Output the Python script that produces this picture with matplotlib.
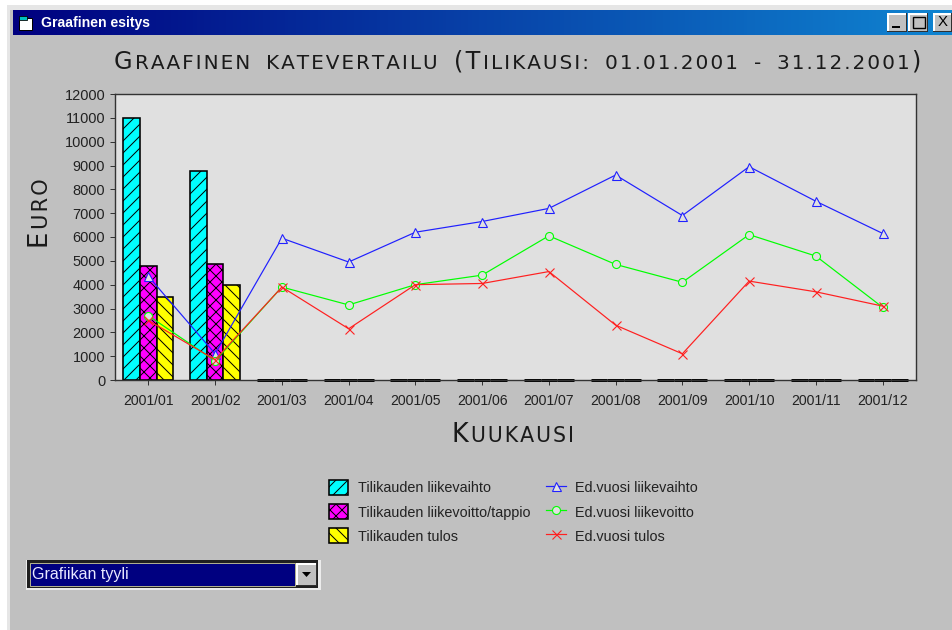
"""Windows-style chart dialog: monthly margin comparison, bars + prior-year lines."""
from itertools import groupby

import matplotlib
matplotlib.use("Agg")
import matplotlib.pyplot as plt
import numpy as np
from matplotlib.patches import Polygon, Rectangle

W, H = 952, 630
months = ["2001/01", "2001/02", "2001/03", "2001/04", "2001/05", "2001/06",
          "2001/07", "2001/08", "2001/09", "2001/10", "2001/11", "2001/12"]
liikevaihto = [11000, 8750, 0, 0, 0, 0, 0, 0, 0, 0, 0, 0]
liikevoitto = [4800, 4850, 0, 0, 0, 0, 0, 0, 0, 0, 0, 0]
tulos = [3500, 4000, 0, 0, 0, 0, 0, 0, 0, 0, 0, 0]
ed_liikevaihto = [4350, 1100, 5950, 4950, 6200, 6650, 7200, 8600, 6900, 8950, 7500, 6150]
ed_liikevoitto = [2700, 800, 3900, 3150, 4000, 4400, 6050, 4850, 4100, 6100, 5200, 3050]
ed_tulos = [2500, 850, 3900, 2150, 4000, 4050, 4550, 2300, 1100, 4150, 3700, 3100]
yticks = list(range(0, 13000, 1000))

plt.rcParams["font.family"] = ["Liberation Sans", "DejaVu Sans"]
plt.rcParams["hatch.linewidth"] = 1.0
TXT = "#222222"
HAIR = "\u200a"

# dpi 72: one point is one pixel, and "//" hatching comes out near the original spacing
fig = plt.figure(figsize=(W / 72, H / 72), dpi=72, facecolor="white")
bg = fig.add_axes([0, 0, 1, 1])
bg.set_xlim(0, W); bg.set_ylim(H, 0); bg.axis("off")


def box(x0, y0, x1, y1, fc, ec="none", lw=0, z=1):
    bg.add_patch(Rectangle((x0, y0), x1 - x0, y1 - y0, fc=fc, ec=ec, lw=lw, zorder=z))


def raised(x0, y0, x1, y1):
    box(x0, y0, x1, y1, "#303030", z=2)
    box(x0, y0, x1 - 1.5, y1 - 1.5, "white", z=2)
    box(x0 + 1.5, y0 + 1.5, x1 - 1.5, y1 - 1.5, "#c0c0c0", z=2)


# window frame and title bar
box(7, 5, W, H, "#e6e6e6")
box(10, 10, W, H, "#c0c0c0")
grad = np.linspace(0, 1, 256)[None, :, None]
grad = np.array([0, 0, 0.5]) * (1 - grad) + np.array([0.06, 0.52, 0.82]) * grad
bg.imshow(grad, extent=(12.5, W, 35, 10), aspect="auto", zorder=2)
bg.set_xlim(0, W); bg.set_ylim(H, 0)
box(19, 18, 32, 30, "white", ec="black", lw=1, z=3)
box(19, 16, 27, 20, "#00c0c0", ec="black", lw=0.8, z=3)
bg.text(41, 23, "Graafinen esitys", color="white", fontsize=14, fontweight="bold",
        va="center", ha="left", zorder=3)
raised(887, 13, 907, 32)
raised(908, 13, 928, 32)
raised(933, 13, 952, 32)
box(892, 26, 900, 28, "black", z=3)
box(913, 17, 925, 28, "none", ec="black", lw=1.4, z=3)
bg.text(943, 22.5, "X", color="black", fontsize=15, ha="center", va="center", zorder=3)

# combo box
box(26, 560, 321, 590, "#ececec")
box(27, 560, 318, 588, "#202020")
box(30, 563, 295, 586, "#000080", ec="#d8d8a0", lw=0.8, z=2)
raised(296, 563, 317, 586)
bg.add_patch(Polygon([[302, 572], [311, 572], [306.5, 577]], fc="black", zorder=3))
bg.text(32, 575, "Grafiikan tyyli", color="#e8e8ff", fontsize=16, va="center",
        ha="left", zorder=3)


def smallcaps(x, y, s, big, small, gap, rotation=0, family="DejaVu Sans"):
    """Lay out s as small caps from x,y (pixels), word by word, run by run."""
    r = fig.canvas.get_renderer()
    pos = 0.0
    for word in s.split(" "):
        for low, run in groupby(word, key=lambda c: not (c.isupper() or c in "()")):
            run = HAIR.join(run).upper() + HAIR
            size = small if low else big
            px, py = (x, y - pos) if rotation else (x + pos, y)
            t = bg.text(px, py, run, fontsize=size, color="#1a1a1a", family=family,
                        ha="left", va="baseline", rotation_mode="anchor", zorder=3)
            pos += t.get_window_extent(r).width
            t.set_rotation(rotation)
        pos += gap


smallcaps(114, 69, "Graafinen katevertailu (Tilikausi: 01.01.2001 - 31.12.2001)", 24, 20, 14)
smallcaps(48, 248, "Euro", 26, 21, 0, rotation=90)
smallcaps(452, 442, "Kuukausi", 25.5, 20.5, 0)

# chart
ax = fig.add_axes([115 / W, 1 - 380 / H, 801 / W, 286 / H], facecolor="#e0e0e0")
x = np.arange(len(months))
bw = 0.25
bar_kw = dict(width=bw, edgecolor="black", zorder=2, clip_on=False)


def edge(vals):
    # empty months show up as a heavy black stub on the axis
    return [1.6 if v else 3 for v in vals]


b1 = ax.bar(x - bw, liikevaihto, color="#00ffff", hatch="//", linewidth=edge(liikevaihto),
            label="Tilikauden liikevaihto", **bar_kw)
b2 = ax.bar(x, liikevoitto, color="#ff00ff", hatch="xx", linewidth=edge(liikevoitto),
            label="Tilikauden liikevoitto/tappio", **bar_kw)
b3 = ax.bar(x + bw, tulos, color="#ffff00", hatch="\\\\", linewidth=edge(tulos),
            label="Tilikauden tulos", **bar_kw)
l1, = ax.plot(x, ed_liikevaihto, color="#2020ff", lw=1.2, marker="^", ms=9, mfc="#e0e0e0",
              mec="#2020ff", mew=1.1, zorder=3, label="Ed.vuosi liikevaihto")
l2, = ax.plot(x, ed_liikevoitto, color="#00ff00", lw=1.2, marker="o", ms=8, mfc="#e0e0e0",
              mec="#00ff00", mew=1.1, zorder=4, label="Ed.vuosi liikevoitto")
l3, = ax.plot(x, ed_tulos, color="#ff2020", lw=1.2, marker="x", ms=9, mew=1.1, zorder=5,
              label="Ed.vuosi tulos")

ax.set_xlim(-0.5, len(months) - 0.5)
ax.set_ylim(0, 12000)
ax.set_xticks(x, months)
ax.set_yticks(yticks)
ax.tick_params(axis="both", labelsize=14, labelcolor=TXT, color="#333333", length=5, width=1)
ax.tick_params(axis="y", labelsize=14.5, pad=5)
ax.tick_params(axis="x", pad=9)
for sp in ax.spines.values():
    sp.set_linewidth(1.4)
    sp.set_color("#333333")

ax.legend(handles=[b1, b2, b3, l1, l2, l3], ncol=2, loc="upper left",
          bbox_to_anchor=(329 / W, 1 - 480 / H), bbox_transform=fig.transFigure,
          frameon=False, fontsize=14.4, labelcolor=TXT, borderpad=0, borderaxespad=0,
          handlelength=1.35, handleheight=1.25, handletextpad=0.65, labelspacing=0.6,
          columnspacing=1.1)

fig.savefig("out.png", dpi=72, facecolor="white")
